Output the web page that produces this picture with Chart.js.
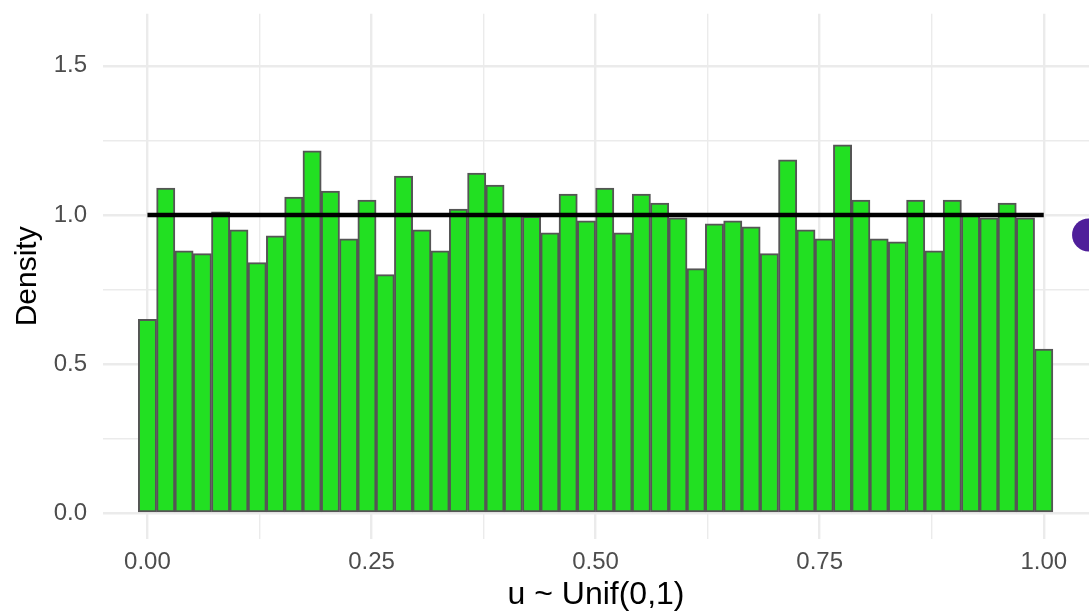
<!DOCTYPE html>
<html>
<head>
<meta charset="utf-8">
<script src="https://cdn.jsdelivr.net/npm/chart.js@4.4.1/dist/chart.umd.min.js"></script>
<style>
    html, body { margin: 0; padding: 0; background: #ffffff; }
    #wrap { width: 1089px; height: 611px; position: relative; }
</style>
</head>
<body>
<div id="wrap"><canvas id="histChart"></canvas></div>
<script>
// histogram of 50 bins over [0, 1], bin centres at k / 49
const binCount = 50;
const binWidth = 1 / 49;
const densities = [
    0.65, 1.09, 0.88, 0.87, 1.01, 0.95, 0.84, 0.93, 1.06, 1.215,
    1.08, 0.92, 1.05, 0.80, 1.13, 0.95, 0.88, 1.02, 1.14, 1.10,
    1.00, 0.995, 0.94, 1.07, 0.98, 1.09, 0.94, 1.07, 1.04, 0.99,
    0.82, 0.97, 0.98, 0.96, 0.87, 1.185, 0.95, 0.92, 1.235, 1.05,
    0.92, 0.91, 1.05, 0.88, 1.05, 1.00, 0.99, 1.04, 0.99, 0.55
];
// theoretical Unif(0,1) density
const refLineX = [0, 1];
const refLineY = [1, 1];
// purple marker partly visible at the right edge
const markerX = [1.05];
const markerY = [0.933];

const xRange = [-0.0496, 1.0505];
const yRange = [-0.087, 1.675];
const xTicks = [0, 0.125, 0.25, 0.375, 0.5, 0.625, 0.75, 0.875, 1];
const yTicks = [0, 0.25, 0.5, 0.75, 1, 1.25, 1.5];
const xLabelTicks = [0, 0.25, 0.5, 0.75, 1];
const yLabelTicks = [0, 0.5, 1, 1.5];

const isMajor = (v, list) => list.some(t => Math.abs(t - v) < 1e-9);
const gridWidth = list => ctx => (ctx.tick && isMajor(ctx.tick.value, list)) ? 2.4 : 1.4;

// fixed ticks and limits, no auto padding for edge labels
function pinTicks(values, range) {
    return s => {
        s.ticks = values.map(v => ({ value: v }));
        s.min = range[0];
        s.max = range[1];
    };
}

function initChart() {
    const barData = densities.map((d, i) => ({ x: i * binWidth, y: d }));
    const lineData = refLineX.map((x, i) => ({ x: x, y: refLineY[i] }));
    const markerData = markerX.map((x, i) => ({ x: x, y: markerY[i] }));

    new Chart(document.getElementById('histChart'), {
        type: 'bar',
        data: {
            datasets: [
                {
                    type: 'scatter',
                    data: markerData,
                    backgroundColor: '#4f1f9a',
                    borderWidth: 0,
                    pointRadius: 16.5,
                    clip: false,
                    order: 0
                },
                {
                    type: 'line',
                    data: lineData,
                    borderColor: '#000000',
                    borderWidth: 4.5,
                    pointRadius: 0,
                    fill: false,
                    order: 1
                },
                {
                    type: 'bar',
                    data: barData,
                    backgroundColor: '#22e022',
                    borderColor: '#555555',
                    borderWidth: 2,
                    borderSkipped: false,
                    barPercentage: 1,
                    categoryPercentage: 1,
                    order: 2
                }
            ]
        },
        options: {
            responsive: true,
            maintainAspectRatio: false,
            animation: false,
            layout: {
                autoPadding: false,
                padding: { top: 13.7, right: 0, bottom: 0, left: 0 }
            },
            plugins: {
                legend: { display: false },
                tooltip: { enabled: false }
            },
            scales: {
                x: {
                    type: 'linear',
                    min: xRange[0],
                    max: xRange[1],
                    bounds: 'data',
                    offset: false,
                    border: { display: false },
                    afterBuildTicks: pinTicks(xTicks, xRange),
                    afterFit: s => {
                        s.height = 72;
                        s.paddingLeft = 0;
                        s.paddingRight = 0;
                    },
                    grid: {
                        offset: false,
                        drawTicks: false,
                        color: '#ebebeb',
                        lineWidth: gridWidth(xLabelTicks)
                    },
                    ticks: {
                        padding: 9,
                        color: '#4d4d4d',
                        font: { family: 'Liberation Sans', size: 24 },
                        maxRotation: 0,
                        autoSkip: false,
                        callback: v => isMajor(v, xLabelTicks) ? v.toFixed(2) : ''
                    },
                    title: {
                        display: true,
                        text: 'u ~ Unif(0,1)',
                        color: '#000000',
                        font: { family: 'Liberation Sans', size: 32, lineHeight: 1 },
                        padding: { top: 0, bottom: 0 }
                    }
                },
                y: {
                    type: 'linear',
                    min: yRange[0],
                    max: yRange[1],
                    bounds: 'data',
                    border: { display: false },
                    afterBuildTicks: pinTicks(yTicks, yRange),
                    afterFit: s => {
                        s.width = 103;
                        s.paddingTop = 0;
                        s.paddingBottom = 0;
                    },
                    grid: {
                        drawTicks: false,
                        color: '#ebebeb',
                        lineWidth: gridWidth(yLabelTicks)
                    },
                    ticks: {
                        padding: 16,
                        color: '#4d4d4d',
                        font: { family: 'Liberation Sans', size: 24 },
                        autoSkip: false,
                        callback: v => isMajor(v, yLabelTicks) ? v.toFixed(1) : ''
                    },
                    title: {
                        display: true,
                        text: 'Density',
                        color: '#000000',
                        font: { family: 'Liberation Sans', size: 30, lineHeight: 1 },
                        padding: { top: 13, bottom: 13 }
                    }
                }
            }
        }
    });
}

document.addEventListener('DOMContentLoaded', initChart);
</script>
</body>
</html>
